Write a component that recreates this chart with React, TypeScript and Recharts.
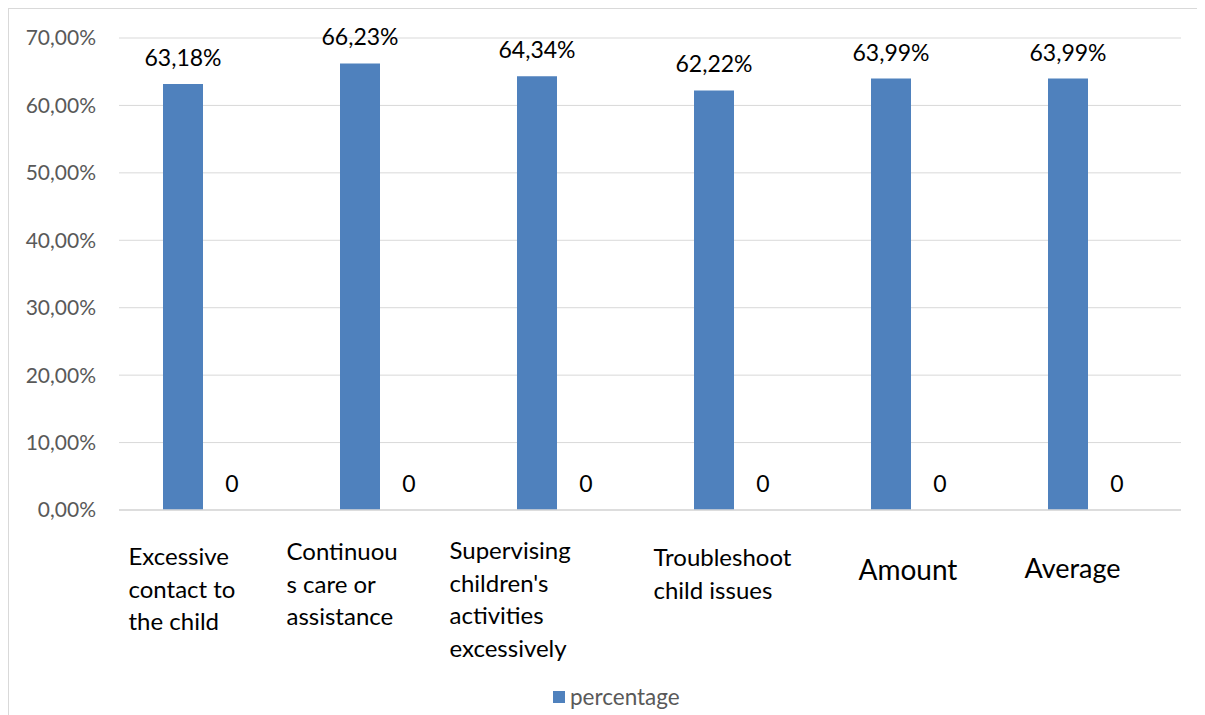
import React from "react"
import { BarChart, Bar, XAxis, YAxis, CartesianGrid, Legend, LabelList } from "recharts"

const categories = [
  "Excessive contact to the child",
  "Continuous care or assistance",
  "Supervising children's activities excessively",
  "Troubleshoot child issues",
  "Amount",
  "Average",
]

// how the category names wrap under the axis
const tickLines = [
  ["Excessive", "contact to", "the child"],
  ["Continuou", "s care or", "assistance"],
  ["Supervising", "children's", "activities", "excessively"],
  ["Troubleshoot", "child issues"],
  ["Amount"],
  ["Average"],
]

const percentage = [0.6318, 0.6623, 0.6434, 0.6222, 0.6399, 0.6399]
const zeroSeries = [0, 0, 0, 0, 0, 0]
const yTicks = [0, 0.1, 0.2, 0.3, 0.4, 0.5, 0.6, 0.7]

// label placement tweaks (left offset from tick centre, first baseline, font size)
const tickStyle = [
  { dx: -79, dy: 53, size: 24 },
  { dx: -98, dy: 48, size: 24 },
  { dx: -112, dy: 47, size: 24 },
  { dx: -85, dy: 54, size: 24 },
  { dx: -57, dy: 68, size: 28 },
  { dx: -68, dy: 66, size: 27 },
]

const data = categories.map((name, i) => ({
  name,
  percentage: percentage[i],
  zero: zeroSeries[i],
}))

const FONT = "Lato, 'Liberation Sans', sans-serif"
const BLUE = "#4f81bd"
const GRID = "#d9d9d9"

const pct = (v: number) => (v * 100).toFixed(2).replace(".", ",") + "%"

function CategoryTick(props: any) {
  const { x, y, payload } = props
  const i = payload.index
  const lines = tickLines[i] || [payload.value]
  const st = tickStyle[i]
  return (
    <text x={x + st.dx} y={y + st.dy} fontSize={st.size} fill="#000" fontFamily={FONT} textAnchor="start">
      {lines.map((l, k) => (
        <tspan key={k} x={x + st.dx} dy={k === 0 ? 0 : 32.5}>
          {l}
        </tspan>
      ))}
    </text>
  )
}

function LegendBox() {
  return (
    <div style={{ display: "flex", alignItems: "center", fontFamily: FONT, fontSize: 22.5, color: "#595959" }}>
      <span style={{ width: 12, height: 12, background: BLUE, display: "inline-block", marginRight: 5 }} />
      <span>percentage</span>
    </div>
  )
}

export default function App() {
  return (
    <div
      style={{
        width: 1197,
        height: 707,
        borderLeft: `1px solid ${GRID}`,
        borderTop: `1px solid ${GRID}`,
        boxSizing: "border-box",
        overflow: "hidden",
        background: "#fff",
      }}
    >
      <BarChart
        width={1196}
        height={706}
        data={data}
        margin={{ top: 29, right: 24, left: 20, bottom: 55 }}
        barSize={40}
        barGap={9}
      >
        <CartesianGrid vertical={false} stroke={GRID} />
        <XAxis
          dataKey="name"
          height={150}
          interval={0}
          tickLine={false}
          tickSize={0}
          axisLine={{ stroke: GRID, strokeWidth: 1.5 }}
          tick={<CategoryTick />}
        />
        <YAxis
          width={90}
          domain={[0, 0.7]}
          ticks={yTicks}
          tickFormatter={pct}
          axisLine={false}
          tickLine={false}
          tickSize={0}
          tickMargin={23}
          tick={{ fill: "#595959", fontSize: 21, fontFamily: FONT }}
        />
        <Legend
          layout="horizontal"
          verticalAlign="middle"
          align="center"
          content={<LegendBox />}
          wrapperStyle={{ top: 674, left: 544, width: "auto" }}
        />
        <Bar dataKey="percentage" fill={BLUE} isAnimationActive={false}>
          <LabelList
            dataKey="percentage"
            position="top"
            offset={18}
            formatter={(v: any) => pct(Number(v))}
            style={{ fill: "#000", fontSize: 23, fontFamily: FONT }}
          />
        </Bar>
        <Bar dataKey="zero" fill="transparent" minPointSize={1} legendType="none" isAnimationActive={false}>
          <LabelList
            dataKey="zero"
            position="top"
            offset={17}
            style={{ fill: "#000", fontSize: 23, fontFamily: FONT }}
          />
        </Bar>
      </BarChart>
    </div>
  )
}
